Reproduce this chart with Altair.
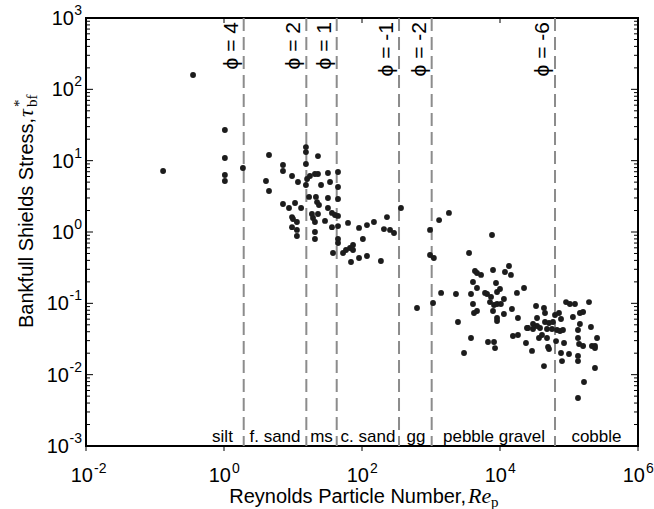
import altair as alt
import pandas as pd

# ---------------- data ----------------
# Reynolds particle number (x) and bankfull Shields stress (y), grouped by region
rep_fine = [0.131, 0.356, 1.03, 1.03, 1.03, 1.03, 1.88,
            4.49, 7.16, 7.16, 4.06, 4.49, 9.68, 11.8, 7.16, 8.75, 10.7, 13.1,
            9.68, 10.0, 11.4, 9.68, 11.4, 11.4]
tau_fine = [7.16, 159, 26.9, 10.9, 6.30, 5.19, 7.89,
            12.0, 8.70, 7.16, 5.19, 3.76, 6.10, 5.02, 2.47, 2.17, 2.55, 2.17,
            1.62, 1.52, 1.38, 1.17, 1.07, 0.879]

rep_sand = [15.4, 15.4, 15.4, 23.0, 16.0, 17.6, 20.8, 23.0, 15.4, 25.5, 32.1, 34.4,
            17.1, 21.5, 22.3, 23.8, 32.1, 18.8, 19.5, 20.8, 23.0, 32.1, 36.7, 40.6,
            29.1, 36.7, 20.8, 20.8, 44.9, 44.9, 44.9, 44.9, 44.9, 44.9, 44.9, 38.0,
            62.7, 90.6, 118, 149, 103, 230, 208, 255, 291, 53.1, 58.6, 67.0, 74.1,
            74.1, 69.3, 90.6, 118, 188, 367]
tau_sand = [15.5, 13.2, 8.98, 11.6, 5.53, 6.10, 6.50, 6.50, 4.56, 4.56, 6.72, 5.02,
            3.10, 3.10, 2.63, 2.39, 3.00, 1.79, 1.57, 1.38, 1.79, 2.17, 1.85, 1.73,
            1.43, 1.17, 1.00, 0.798, 6.94, 4.27, 2.90, 1.68, 1.21, 0.798, 0.701, 0.508,
            1.34, 1.14, 1.25, 1.38, 0.798, 1.62, 1.10, 1.07, 0.968, 0.508, 0.559, 0.597, 0.657,
            0.559, 0.380, 0.432, 0.461, 0.392, 2.17]

rep_gravel = [968, 968, 1100, 627,
              1310, 1820, 1400, 1070, 3560, 7660, 4340, 4640, 5310, 7920, 11800, 13500,
              14400, 4060, 4640, 8750, 2300, 3800, 6070, 6490, 7410, 9060, 10000, 17600,
              22300, 4060, 7160, 8190, 9060, 10300, 11400, 4640, 4200, 14900, 7920, 11400,
              9060, 9060, 2460, 18200, 24600, 3800, 15400, 18200, 6700, 8190, 8470, 23800,
              29100, 3010, 43400,
              33300, 43400, 44900, 34400, 30100, 25500, 30100, 34400, 38000, 48000, 56700,
              44900, 51300, 58600, 36700, 40600, 48000, 49700, 51300, 64900, 62700, 71600, 76600]
tau_gravel = [1.07, 0.476, 0.432, 0.0861,
              1.47, 1.85, 0.140, 0.101, 0.508, 0.908, 0.284, 0.266, 0.250, 0.293, 0.275, 0.334,
              0.250, 0.199, 0.164, 0.193, 0.135, 0.135, 0.140, 0.135, 0.123, 0.144, 0.159, 0.140,
              0.164, 0.0979, 0.104, 0.0948, 0.0979, 0.0979, 0.115, 0.0780, 0.0732, 0.0833, 0.0780, 0.0709,
              0.0623, 0.0565, 0.0547, 0.0623, 0.0451, 0.0327, 0.0348, 0.0360, 0.0287, 0.0287, 0.0236, 0.0278,
              0.0215, 0.0201, 0.0132,
              0.0918, 0.0861, 0.0732, 0.0623, 0.0513, 0.0451, 0.0437, 0.0481, 0.0451, 0.0437, 0.0437,
              0.0547, 0.0530, 0.0547, 0.0327, 0.0360, 0.0327, 0.0244, 0.0229, 0.0296, 0.0686, 0.0732, 0.0603]

rep_cobble = [90600, 103000, 122000, 195000, 114000, 144000, 160000, 67000, 74100, 81800,
              144000, 208000, 76600, 84700, 100000, 135000, 135000, 140000, 160000, 135000,
              135000, 79200, 215000, 238000, 238000, 255000, 238000, 165000, 135000]
tau_cobble = [0.104, 0.0979, 0.0979, 0.104, 0.0643, 0.0732, 0.0756, 0.0423, 0.0409, 0.0423,
              0.0513, 0.0466, 0.0201, 0.0278, 0.0195, 0.0423, 0.0327, 0.0269, 0.0252, 0.0183,
              0.0155, 0.0155, 0.0252, 0.0252, 0.0236, 0.0327, 0.0124, 0.00789, 0.00471]

# grain-size boundaries (phi scale) and class names
phi_pos = [1.93, 15.6, 43.0, 344, 1023, 62700]
phi_text = ["ϕ = 4", "ϕ = 2", "ϕ = 1", "ϕ = -1", "ϕ = -2", "ϕ = -6"]
class_name = ["silt", "f. sand", "ms", "c. sand", "gg", "pebble gravel", "cobble"]
class_pos = [0.95, 5.48, 25.9, 122, 607, 8190, 250000]

# axis ticks
x_tick_vals = [0.01, 1, 100, 1e4, 1e6]
x_tick_exp = ["-2", "0", "2", "4", "6"]
y_tick_vals = [0.001, 0.01, 0.1, 1, 10, 100, 1000]
y_tick_exp = ["-3", "-2", "-1", "0", "1", "2", "3"]
y_minor_vals = [m * 10.0 ** e for e in range(-3, 3) for m in range(2, 10)]

# ---------------- chart ----------------
W, H = 552, 428
FONT = "Liberation Sans"
xs = alt.Scale(type="log", domain=[1e-2, 1e6], nice=False)
ys = alt.Scale(type="log", domain=[1e-3, 1e3], nice=False)

pts = pd.DataFrame({"rep": rep_fine + rep_sand + rep_gravel + rep_cobble,
                    "tau": tau_fine + tau_sand + tau_gravel + tau_cobble})
phi_df = pd.DataFrame({"pos": phi_pos, "label": phi_text})
cls_df = pd.DataFrame({"pos": class_pos, "name": class_name})
xt_df = pd.DataFrame({"v": x_tick_vals, "e": x_tick_exp})
yt_df = pd.DataFrame({"v": y_tick_vals, "e": y_tick_exp,
                      "neg": [e.startswith("-") for e in y_tick_exp]})
ym_df = pd.DataFrame({"v": y_minor_vals})

X = lambda f: alt.X(f, type="quantitative", scale=xs, axis=None)
Y = lambda f: alt.Y(f, type="quantitative", scale=ys, axis=None)

dashed = alt.Chart(phi_df).mark_rule(color="#8c8c8c", strokeWidth=2, strokeDash=[13, 6]).encode(
    x=X("pos"), y=alt.value(0), y2=alt.value(H))

phi_lbl = alt.Chart(phi_df).mark_text(angle=270, align="right", baseline="alphabetic",
                                      dy=-6, fontSize=21, font=FONT, color="black").encode(
    x=X("pos"), y=alt.value(4), text="label:N")

points = alt.Chart(pts).mark_circle(size=34, color="#1c1c1c", opacity=1).encode(
    x=X("rep"), y=Y("tau"))

cls_lbl = alt.Chart(cls_df).mark_text(align="center", baseline="alphabetic", fontSize=17,
                                      font=FONT, color="black").encode(
    x=X("pos"), y=alt.value(H - 4), text="name:N")

# ticks (inward on left/right/top, outward at bottom as in the figure)
tick_bot = alt.Chart(xt_df).mark_rule(color="black").encode(x=X("v"), y=alt.value(H), y2=alt.value(H + 5))
tick_top = alt.Chart(xt_df).mark_rule(color="black").encode(x=X("v"), y=alt.value(0), y2=alt.value(5))
tick_l = alt.Chart(yt_df).mark_rule(color="black").encode(y=Y("v"), x=alt.value(0), x2=alt.value(7))
tick_r = alt.Chart(yt_df).mark_rule(color="black").encode(y=Y("v"), x=alt.value(W), x2=alt.value(W - 7))
mtick_l = alt.Chart(ym_df).mark_rule(color="black").encode(y=Y("v"), x=alt.value(0), x2=alt.value(4))
mtick_r = alt.Chart(ym_df).mark_rule(color="black").encode(y=Y("v"), x=alt.value(W), x2=alt.value(W - 4))

# x tick labels: "10" + superscript exponent
xl_base = alt.Chart(xt_df).mark_text(align="right", baseline="alphabetic", fontSize=20, dx=7,
                                     font=FONT, color="black").encode(
    x=X("v"), y=alt.value(H + 36), text=alt.value("10"))
xl_exp = alt.Chart(xt_df).mark_text(align="left", baseline="alphabetic", fontSize=14, dx=8,
                                    font=FONT, color="black").encode(
    x=X("v"), y=alt.value(H + 27), text="e:N")

# y tick labels
yl_exp = alt.Chart(yt_df).mark_text(align="right", baseline="alphabetic", fontSize=14, dy=-3,
                                    font=FONT, color="black").encode(
    y=Y("v"), x=alt.value(-4), text="e:N")
yl_pos = alt.Chart(yt_df).transform_filter("!datum.neg").mark_text(
    align="right", baseline="alphabetic", fontSize=20, dy=7, font=FONT, color="black").encode(
    y=Y("v"), x=alt.value(-12), text=alt.value("10"))
yl_neg = alt.Chart(yt_df).transform_filter("datum.neg").mark_text(
    align="right", baseline="alphabetic", fontSize=20, dy=7, font=FONT, color="black").encode(
    y=Y("v"), x=alt.value(-17), text=alt.value("10"))

one = pd.DataFrame({"k": [0]})
# x axis title
xt_main = alt.Chart(one).mark_text(align="right", baseline="alphabetic", fontSize=20,
                                   font=FONT, color="black").encode(
    x=alt.value(380), y=alt.value(H + 57), text=alt.value("Reynolds Particle Number,"))
xt_re = alt.Chart(one).mark_text(align="left", baseline="alphabetic", fontSize=22,
                                 font="Liberation Serif", fontStyle="italic", color="black").encode(
    x=alt.value(382), y=alt.value(H + 57), text=alt.value("Re"))
xt_p = alt.Chart(one).mark_text(align="left", baseline="alphabetic", fontSize=15,
                                font="Liberation Serif", color="black").encode(
    x=alt.value(405), y=alt.value(H + 61), text=alt.value("p"))

# y axis title (rotated)
yt_main = alt.Chart(one).mark_text(angle=270, align="left", baseline="alphabetic", fontSize=20,
                                   font=FONT, color="black").encode(
    x=alt.value(-53), y=alt.value(310), text=alt.value("Bankfull Shields Stress,"))
yt_tau = alt.Chart(one).mark_text(angle=270, align="left", baseline="alphabetic", fontSize=22,
                                  font="Liberation Serif", fontStyle="italic", color="black").encode(
    x=alt.value(-53), y=alt.value(99), text=alt.value("τ"))
yt_star = alt.Chart(one).mark_text(angle=270, align="left", baseline="alphabetic", fontSize=15,
                                   font="Liberation Serif", color="black").encode(
    x=alt.value(-62), y=alt.value(89), text=alt.value("*"))
yt_bf = alt.Chart(one).mark_text(angle=270, align="left", baseline="alphabetic", fontSize=15,
                                 font="Liberation Serif", color="black").encode(
    x=alt.value(-49), y=alt.value(89), text=alt.value("bf"))

chart = alt.layer(
    dashed, phi_lbl, points, cls_lbl,
    tick_bot, tick_top, tick_l, tick_r, mtick_l, mtick_r,
    xl_base, xl_exp, yl_exp, yl_pos, yl_neg,
    xt_main, xt_re, xt_p, yt_main, yt_tau, yt_star, yt_bf,
).properties(
    width=W, height=H,
    autosize=alt.AutoSizeParams(type="none"),
    padding={"left": 86, "top": 18, "right": 16, "bottom": 63},
).configure_view(stroke="black", strokeWidth=2)

chart.save("out.html", embed_options={"renderer": "svg", "actions": False})
